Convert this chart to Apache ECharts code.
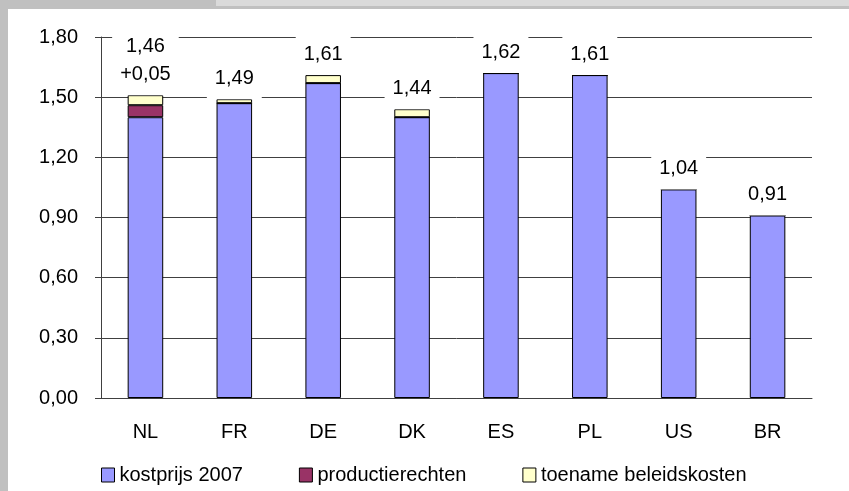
<!DOCTYPE html>
<html>
<head>
<meta charset="utf-8">
<title>kostprijs</title>
<script src="https://cdn.jsdelivr.net/npm/echarts@6/dist/echarts.min.js"></script>
<style>
  html, body { margin: 0; padding: 0; background: #fff; }
  #main { width: 849px; height: 491px; }
</style>
</head>
<body>
<div id="main"></div>
<script>
const landen = ['NL', 'FR', 'DE', 'DK', 'ES', 'PL', 'US', 'BR']
const kostprijs = [1.40, 1.47, 1.57, 1.40, 1.62, 1.61, 1.04, 0.91]
const productierechten = [0.06, 0, 0, 0, 0, 0, 0, 0]
const beleidskosten = [0.05, 0.02, 0.04, 0.04, 0, 0, 0, 0]
const labelTeksten = ['1,46\n+0,05', '1,49', '1,61', '1,44', '1,62', '1,61', '1,04', '0,91']
const yTicks = [0, 0.3, 0.6, 0.9, 1.2, 1.5, 1.8]

const font = 'Liberation Sans, Arial, sans-serif'
const chart = echarts.init(document.getElementById('main'))

const barStyle = (kleur) => ({ color: kleur, borderColor: '#000', borderWidth: 1 })

const option = {
  animation: false,
  textStyle: { fontFamily: font },
  graphic: [
    // grijze rand van het Excel-venster, titel valt er grotendeels buiten
    { type: 'rect', shape: { x: 0, y: 0, width: 849, height: 6 }, style: { fill: '#dadada' }, z: 10 },
    {
      type: 'text', left: 150, top: -20, z: 11,
      style: { text: 'Kostprijs (€) en geslacht gewicht', font: 'bold 20px ' + font, fill: '#000' }
    },
    { type: 'rect', shape: { x: 0, y: 0, width: 216, height: 6 }, style: { fill: '#c0c0c0' }, z: 12 },
    { type: 'rect', shape: { x: 0, y: 6, width: 849, height: 3 }, style: { fill: '#c0c0c0' }, z: 12 },
    { type: 'rect', shape: { x: 0, y: 0, width: 8, height: 491 }, style: { fill: '#c0c0c0' }, z: 12 }
  ],
  grid: { left: 101, right: 37, top: 37, bottom: 93 },
  legend: {
    data: ['kostprijs 2007', 'productierechten', 'toename beleidskosten'],
    left: 96,
    top: 460,
    itemWidth: 13,
    itemHeight: 14,
    itemGap: 56,
    icon: 'rect',
    itemStyle: { borderColor: '#000', borderWidth: 1 },
    textStyle: { fontSize: 20, color: '#000', fontFamily: font }
  },
  xAxis: {
    type: 'category',
    data: landen,
    axisLine: { lineStyle: { color: '#404040', width: 1 } },
    axisTick: { length: 6, lineStyle: { color: '#404040' } },
    axisLabel: { margin: 24, fontSize: 20, color: '#000', fontFamily: font }
  },
  yAxis: {
    type: 'value',
    min: yTicks[0],
    max: yTicks[yTicks.length - 1],
    interval: 0.3,
    axisLine: { show: true, lineStyle: { color: '#404040', width: 1 } },
    axisTick: { show: true, length: 6, lineStyle: { color: '#404040' } },
    splitLine: { lineStyle: { color: '#404040', width: 1 } },
    axisLabel: {
      margin: 23,
      fontSize: 20,
      color: '#000',
      fontFamily: font,
      formatter: (v) => v.toFixed(2).replace('.', ',')
    }
  },
  series: [
    { name: 'kostprijs 2007', type: 'bar', stack: 'k', barWidth: '40%', data: kostprijs, itemStyle: barStyle('#9999ff') },
    { name: 'productierechten', type: 'bar', stack: 'k', data: productierechten, itemStyle: barStyle('#993366') },
    { name: 'toename beleidskosten', type: 'bar', stack: 'k', data: beleidskosten, itemStyle: barStyle('#ffffcc') },
    {
      name: 'labels',
      type: 'bar',
      stack: 'k',
      data: landen.map(() => 0),
      itemStyle: { color: 'transparent', borderWidth: 0 },
      label: {
        show: true,
        position: 'top',
        distance: 0,
        formatter: (p) => labelTeksten[p.dataIndex],
        backgroundColor: '#fff',
        padding: [7, 8],
        lineHeight: 28,
        fontSize: 20,
        color: '#000',
        fontFamily: font
      },
      z: 5
    }
  ]
}

chart.setOption(option)
</script>
</body>
</html>
